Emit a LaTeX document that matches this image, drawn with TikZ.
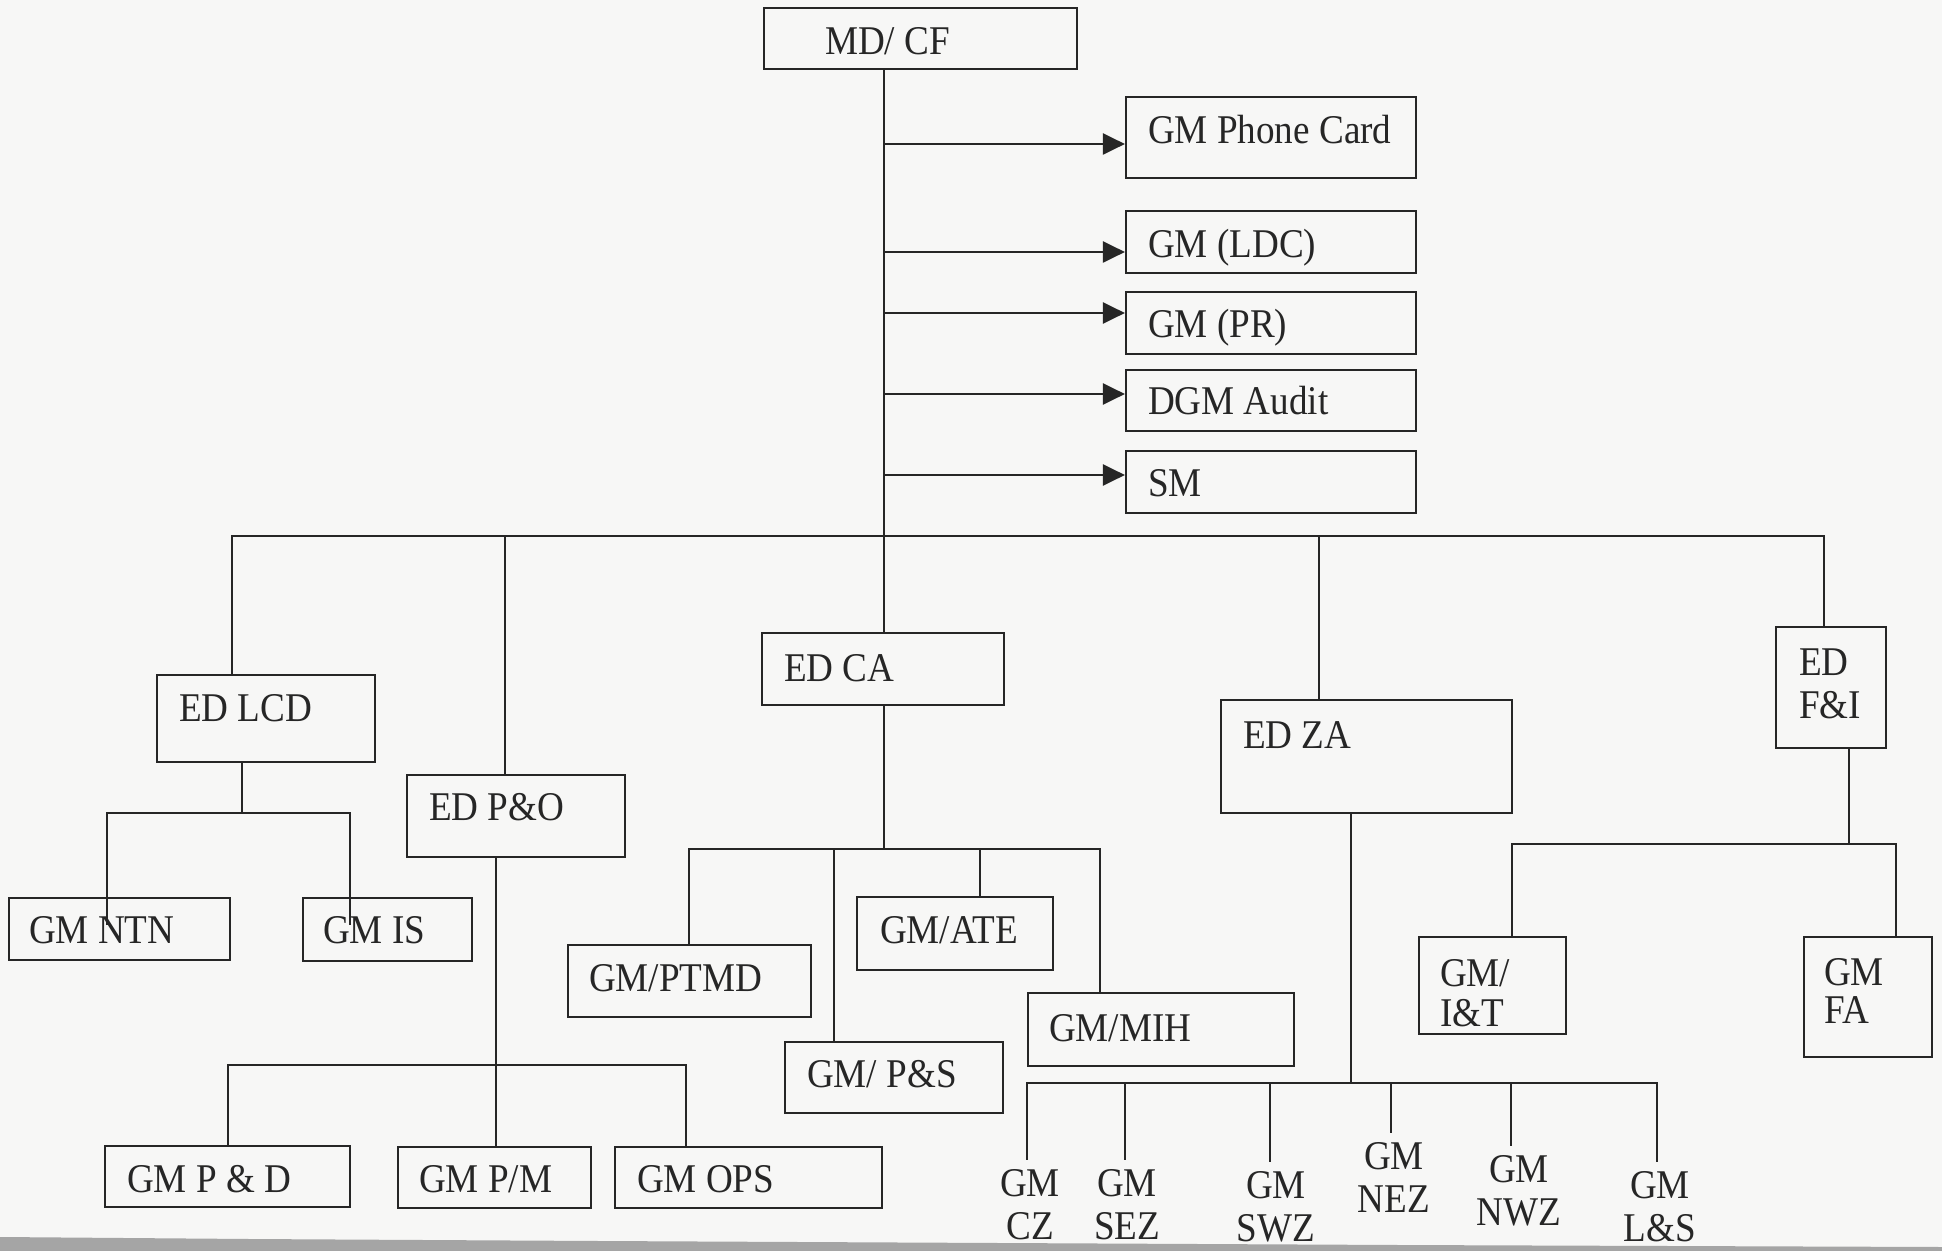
\documentclass[tikz,border=0pt]{standalone}
\usepackage{fontspec}
\setmainfont{Liberation Serif}[FakeStretch=0.91]
\usetikzlibrary{arrows.meta,fit,calc}
\definecolor{ink}{HTML}{262626}
\definecolor{paper}{HTML}{F7F7F6}
\definecolor{tear}{HTML}{A5A5A5}
\begin{document}
\begin{tikzpicture}[x=0.5pt,y=-0.5pt, color=ink, line width=1.1pt, line cap=rect,
  bx/.style={draw=ink, line width=1.1pt, inner sep=0pt, rectangle},
  tx/.style={anchor=base west, inner sep=0pt, text=ink, font=\fontsize{20.4}{21.5}\selectfont},
  lbl/.style={anchor=north, inner xsep=0pt, inner ysep=5pt, align=center, text=ink, font=\fontsize{20.4}{21.5}\selectfont},
  arr/.style={-{Triangle[length=11pt,width=10.5pt]}}]
\fill[paper] (0,0) rectangle (1942,1251);
\useasboundingbox (0,0) rectangle (1942,1251);
\fill[tear] (0,1237) -- (250,1239) -- (600,1241) -- (1000,1243) -- (1400,1245) -- (1942,1247) -- (1942,1251) -- (0,1251) -- cycle;

% top
\node[bx, fit={(764,8) (1077,69)}] (md) {};
\node[tx] (mdT) at (824,54.5) {MD/ CF};
\node[bx, fit={(1126,97) (1416,178)}] (pc) {};
\node[tx] (pcT) at (1147,143.5) {GM Phone Card};
\node[bx, fit={(1126,211) (1416,273)}] (ldc) {};
\node[tx] (ldcT) at (1147,258) {GM (LDC)};
\node[bx, fit={(1126,292) (1416,354)}] (pr) {};
\node[tx] (prT) at (1147,338) {GM (PR)};
\node[bx, fit={(1126,370) (1416,431)}] (aud) {};
\node[tx] (audT) at (1147,415) {DGM Audit};
\node[bx, fit={(1126,451) (1416,513)}] (sm) {};
\node[tx] (smT) at (1147,496) {SM};

% ED row
\node[bx, fit={(157,675) (375,762)}] (edlcd) {};
\node[tx] (edlcdT) at (178,721.5) {ED LCD};
\node[bx, fit={(407,775) (625,857)}] (edpo) {};
\node[tx] (edpoT) at (428,820.5) {ED P\&O};
\node[bx, fit={(762,633) (1004,705)}] (edca) {};
\node[tx] (edcaT) at (783,681) {ED CA};
\node[bx, fit={(1221,700) (1512,813)}] (edza) {};
\node[tx] (edzaT) at (1242,748) {ED ZA};
\node[bx, fit={(1776,627) (1886,748)}] (edfi) {};
\node[tx] (edfiT1) at (1798,675.5) {ED};
\node[tx] (edfiT2) at (1798,718.5) {F\&I};

% LCD children
\node[bx, fit={(9,898) (230,960)}] (ntn) {};
\node[tx] (ntnT) at (28,943) {GM NTN};
\node[bx, fit={(303,898) (472,961)}] (gis) {};
\node[tx] (gisT) at (322,943) {GM IS};

% P&O children
\node[bx, fit={(105,1146) (350,1207)}] (pd) {};
\node[tx] (pdT) at (126,1192.5) {GM P \& D};
\node[bx, fit={(398,1147) (591,1208)}] (pm) {};
\node[tx] (pmT) at (418,1192.5) {GM P/M};
\node[bx, fit={(615,1147) (882,1208)}] (ops) {};
\node[tx] (opsT) at (636,1192.5) {GM OPS};

% CA children
\node[bx, fit={(568,945) (811,1017)}] (ptmd) {};
\node[tx] (ptmdT) at (588,991.5) {GM/PTMD};
\node[bx, fit={(857,897) (1053,970)}] (ate) {};
\node[tx] (ateT) at (879,943.5) {GM/ATE};
\node[bx, fit={(785,1042) (1003,1113)}] (ps) {};
\node[tx] (psT) at (806,1087) {GM/ P\&S};
\node[bx, fit={(1028,993) (1294,1066)}] (mih) {};
\node[tx] (mihT) at (1048,1041.5) {GM/MIH};

% ZA children
\node[lbl] (cz) at (1030,1158.5) {GM\\CZ};
\node[lbl] (sez) at (1127,1158.5) {GM\\SEZ};
\node[lbl] (swz) at (1276,1160.5) {GM\\SWZ};
\node[lbl] (nez) at (1394,1131.5) {GM\\NEZ};
\node[lbl] (nwz) at (1519,1144.5) {GM\\NWZ};
\node[lbl] (ls) at (1660,1160.5) {GM\\L\&S};

% F&I children
\node[bx, fit={(1419,937) (1566,1034)}] (it) {};
\node[tx] (itT1) at (1439,986.5) {GM/};
\node[tx] (itT2) at (1439,1026.5) {I\&T};
\node[bx, fit={(1804,937) (1932,1057)}] (fa) {};
\node[tx] (faT1) at (1823,985.5) {GM};
\node[tx] (faT2) at (1823,1023.5) {FA};

% trunk and staff arrows
\coordinate (bt) at (884,536);
\coordinate (a1) at (884,144);
\coordinate (a2) at (884,252);
\coordinate (a3) at (884,313);
\coordinate (a4) at (884,394);
\coordinate (a5) at (884,475);
\draw (bt |- md.south) -- (bt |- edca.north);
\draw[arr] (a1) -- (a1 -| pc.west);
\draw[arr] (a2) -- (a2 -| ldc.west);
\draw[arr] (a3) -- (a3 -| pr.west);
\draw[arr] (a4) -- (a4 -| aud.west);
\draw[arr] (a5) -- (a5 -| sm.west);

% main bus
\coordinate (bL) at (232,536);
\coordinate (bPO) at (505,536);
\coordinate (bZA) at (1319,536);
\coordinate (bR) at (1824,536);
\draw (bL) -- (bR);
\draw (bL) -- (bL |- edlcd.north);
\draw (bPO) -- (bPO |- edpo.north);
\draw (bZA) -- (bZA |- edza.north);
\draw (bR) -- (bR |- edfi.north);

% LCD
\coordinate (lcB) at (242,813);
\coordinate (lc1) at (107,813);
\coordinate (lc2) at (350,813);
\draw (edlcd.south -| lcB) -- (lcB);
\draw (lc1) -- (lc2);
\draw (lc1) -- ($(lc1 |- ntn.north)+(0,27)$);
\draw (lc2) -- ($(lc2 |- gis.north)+(0,27)$);

% P&O
\coordinate (poB) at (496,1065);
\coordinate (po1) at (228,1065);
\coordinate (po2) at (686,1065);
\draw (edpo.south -| poB) -- (poB |- pm.north);
\draw (po1) -- (po2);
\draw (po1) -- (po1 |- pd.north);
\draw (po2) -- (po2 |- ops.north);

% CA
\coordinate (caB) at (884,849);
\coordinate (ca1) at (689,849);
\coordinate (ca2) at (834,849);
\coordinate (ca3) at (980,849);
\coordinate (ca4) at (1100,849);
\draw (edca.south -| caB) -- (caB);
\draw (ca1) -- (ca4);
\draw (ca1) -- (ca1 |- ptmd.north);
\draw (ca2) -- (ca2 |- ps.north);
\draw (ca3) -- (ca3 |- ate.north);
\draw (ca4) -- (ca4 |- mih.north);

% ZA
\coordinate (zaB) at (1351,1083);
\coordinate (z1) at (1027,1083);
\coordinate (z2) at (1125,1083);
\coordinate (z3) at (1270,1083);
\coordinate (z4) at (1391,1083);
\coordinate (z5) at (1511,1083);
\coordinate (z6) at (1657,1083);
\draw (edza.south -| zaB) -- (zaB);
\draw (z1) -- (z6);
\draw (z1) -- (z1 |- cz.north);
\draw (z2) -- (z2 |- sez.north);
\draw (z3) -- (z3 |- swz.north);
\draw (z4) -- (z4 |- nez.north);
\draw (z5) -- (z5 |- nwz.north);
\draw (z6) -- (z6 |- ls.north);

% F&I
\coordinate (fiB) at (1849,844);
\coordinate (fi1) at (1512,844);
\coordinate (fi2) at (1896,844);
\draw (edfi.south -| fiB) -- (fiB);
\draw (fi1) -- (fi2);
\draw (fi1) -- (fi1 |- it.north);
\draw (fi2) -- (fi2 |- fa.north);
\end{tikzpicture}
\end{document}
